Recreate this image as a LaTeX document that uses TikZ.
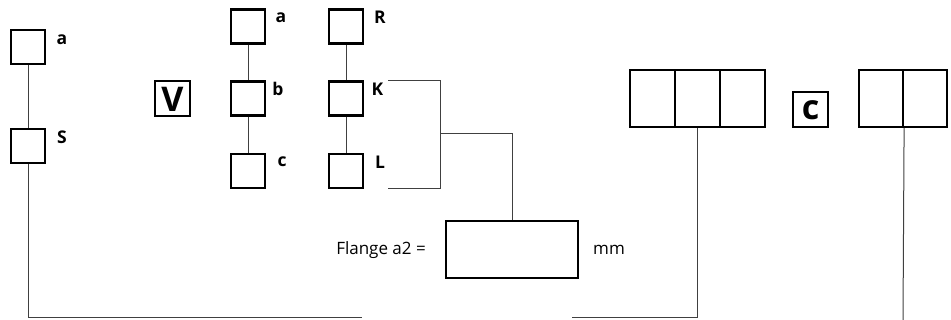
\documentclass[tikz,border=0pt]{standalone}
\usepackage{fontspec}
\setmainfont{Open Sans}
\usepackage{tikz}

\begin{document}
\begin{tikzpicture}[
        x=1pt, y=-1pt,
        sq/.style={draw, rectangle, line width=2.2pt, minimum width=34pt, minimum height=34pt, inner sep=0pt},
        cell/.style={draw, rectangle, line width=2.2pt, minimum width=45pt, minimum height=57pt, inner sep=0pt},
        letterbox/.style={draw, rectangle, line width=2pt, minimum width=35pt, minimum height=35pt, inner sep=0pt, font=\fontsize{34}{34}\selectfont\bfseries},
        lbl/.style={font=\fontsize{17.5}{17.5}\selectfont\bfseries, inner sep=0pt},
        txt/.style={font=\fontsize{17}{17}\selectfont, inner sep=0pt},
        link/.style={line width=1pt, draw=black!75}
    ]
    \useasboundingbox (0,0) rectangle (951,320);

    % Left column
    \node[sq] (la) at (28,47) {};
    \node[sq] (ls) at (28,146) {};
    \node[lbl] at (62,40) {a};
    \node[lbl] at (62,137) {S};

    % V box
    \node[letterbox] (vbox) at (172.5,99) {V};

    % Middle column
    \node[sq] (ma) at (248,26.5) {};
    \node[sq] (mb) at (248,98.5) {};
    \node[sq] (mc) at (248,171) {};
    \node[lbl] at (281,18) {a};
    \node[lbl] at (278,89) {b};
    \node[lbl] at (282,162) {c};

    % Right column
    \node[sq] (rr) at (346,26.5) {};
    \node[sq] (rk) at (346,98.5) {};
    \node[sq] (rl) at (346,171) {};
    \node[lbl] at (380,17.5) {R};
    \node[lbl] at (377.5,89) {K};
    \node[lbl] at (380,162) {L};

    % Flange box
    \node[draw, rectangle, line width=2.2pt, minimum width=132pt, minimum height=57pt] (flange) at (512,249.5) {};
    \node[txt, anchor=east] (flangetxt) at (426,250) {Flange a2 =};
    \node[txt, anchor=west] (mmtxt) at (593,250) {mm};

    % Three cells
    \node[cell] (ta) at (652.5,98.5) {};
    \node[cell] (tb) at (697.5,98.5) {};
    \node[cell] (tc) at (742.5,98.5) {};

    % c box
    \node[letterbox] (cbox) at (810.5,110) {c};

    % Two cells
    \node[cell, minimum width=44pt] (da) at (881,98.5) {};
    \node[cell, minimum width=44pt] (db) at (925,98.5) {};

    % Connectors
    \coordinate (leftend) at (362,318);
    \coordinate (midend) at (572,318);
    \coordinate (rightend) at (903,320);
    \coordinate (kend) at (388,81);
    \coordinate (lend) at (388,189);
    \coordinate (brtop) at (440,81);
    \coordinate (brbot) at (440,189);
    \coordinate (brmid) at (440,134);

    \draw[link] (la) -- (ls);
    \draw[link] (ls.south) |- (leftend);
    \draw[link] (ma) -- (mb);
    \draw[link] (mb) -- (mc);
    \draw[link] (rr) -- (rk);
    \draw[link] (rk) -- (rl);
    \draw[link] (kend) -- (brtop) -- (brbot) -- (lend);
    \draw[link] (brmid) -| (flange.north);
    \draw[link] (tb.south) |- (midend);
    \draw[link] (da.south east) -- (rightend);

\end{tikzpicture}
\end{document}
